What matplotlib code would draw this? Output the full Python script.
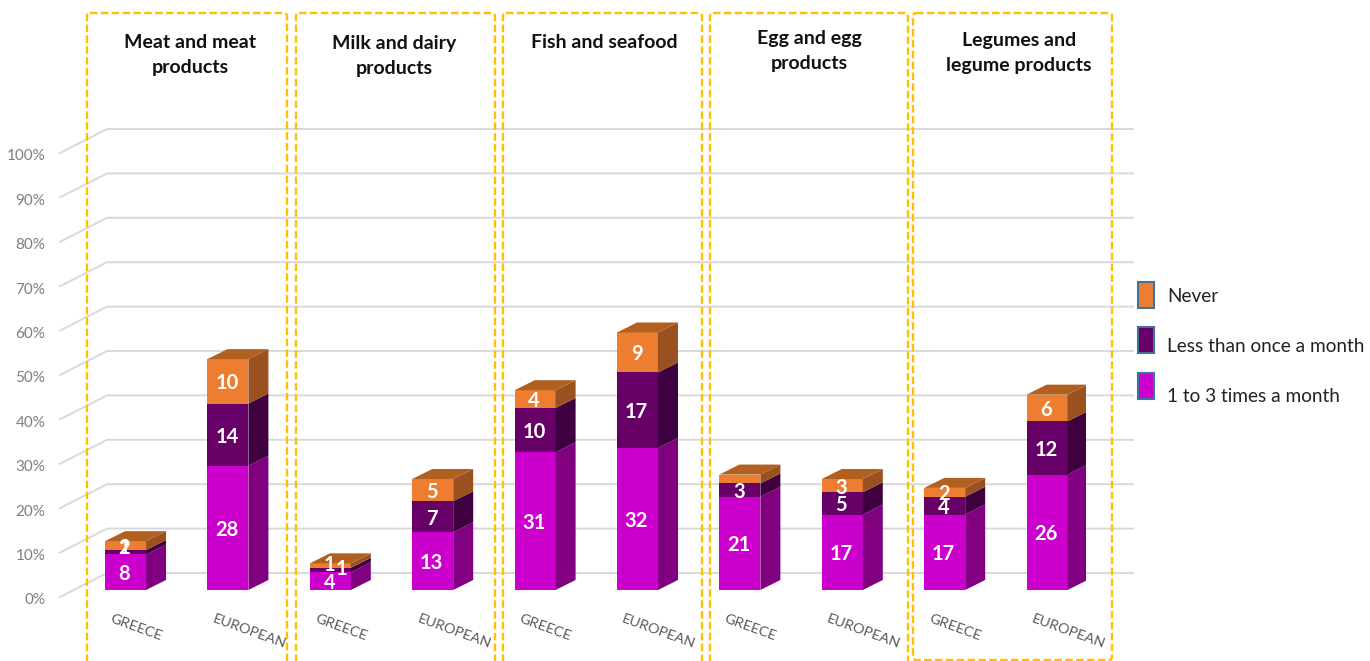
import numpy as np
import matplotlib
matplotlib.use("Agg")
import matplotlib.pyplot as plt
from matplotlib.patches import FancyBboxPatch, Rectangle
from matplotlib.transforms import Affine2D

plt.rcParams['font.family'] = ['Lato', 'DejaVu Sans']

regions = ["GREECE", "EUROPEAN"] * 5
monthly = [8, 28, 4, 13, 31, 32, 21, 17, 17, 26]
rarely = [1, 14, 1, 7, 10, 17, 3, 5, 4, 12]
never = [2, 10, 1, 5, 4, 9, 2, 3, 2, 6]
series_names = ["1 to 3 times a month", "Less than once a month", "Never"]
titles = ["Meat and meat\nproducts", "Milk and dairy\nproducts", "Fish and seafood",
          "Egg and egg\nproducts", "Legumes and\nlegume products"]

front_col = ["#CC00CC", "#660066", "#ED7D31"]
side_col = ["#800080", "#3F003F", "#9A501F"]
top_col = "#B1601F"

W, H = 1370, 661
fig = plt.figure(figsize=(W / 100, H / 100), dpi=100)
ax = fig.add_axes([60 / W, (H - 597) / H, 1026 / W, 444 / H])
x = np.arange(10)
ax.set_xlim(-0.64, 9.38)
ax.set_ylim(0, 100)
for s in ax.spines.values():
    s.set_visible(False)


def shift(dx, dy):
    return ax.transData + Affine2D().translate(dx, dy)


# slanted wall lines
for t in range(0, 101, 10):
    xs = [-0.64, -0.64 + 47 / 102.4, 9.38 + 47 / 102.4]
    ax.plot(xs, [t, t + 24 / 4.44, t + 24 / 4.44], color="#D9D9D9", lw=1.4, zorder=1, clip_on=False)

ax.set_yticks(range(0, 101, 10), [f"{t}%" for t in range(0, 101, 10)])
ax.set_xticks(x, regions, rotation=-20, ha="left", va="top", rotation_mode="anchor")
ax.tick_params(length=0)
ax.tick_params(axis="y", labelsize=11, labelcolor="#7F7F7F", pad=10.5)
ax.tick_params(axis="x", labelsize=10.4, labelcolor="#595959", pad=11)
for lab in ax.get_xticklabels():
    lab.set_transform(lab.get_transform() + Affine2D().translate(-13, 0))
for lab in ax.get_yticklabels():
    lab.set_transform(lab.get_transform() + Affine2D().translate(0, -2))

# bars: front faces sit 7px above the axis zero, the depth is 20px across and 10px up
front = shift(0, 7)
bw = 0.4
ddx = 20 / 102.4
ddy = 10 / 4.44
skip = {(6, 2)}
nudge = {(0, 1): -6, (0, 2): 0, (2, 1): -3, (2, 2): -3}
xnudge = {(2, 1): 12}
stacks = [monthly, rarely, never]
for i in x:
    base = 0
    for k, vals in enumerate(stacks):
        v = vals[i]
        l, r = i - bw / 2, i + bw / 2
        ax.bar(i, v, bw, bottom=base, color=front_col[k], transform=front, zorder=3)
        ax.fill([r, r + ddx, r + ddx, r], [base, base + ddy, base + v + ddy, base + v],
                color=side_col[k], lw=0, transform=front, zorder=3)
        if k == 2:
            top = base + v
            ax.fill([l, r, r + ddx, l + ddx], [top, top, top + ddy, top + ddy],
                    color=top_col, lw=0, transform=front, zorder=3)
        if (i, k) not in skip:
            ax.text(i - 0.01 + xnudge.get((i, k), 0) / 102.4,
                    base + v / 2 - (2 + nudge.get((i, k), 0)) / 4.44, str(v), color="white",
                    fontsize=14.5, fontweight="bold", ha="center", va="center",
                    transform=front, zorder=5)
        base += v

# pixel space for the annotation shapes on top of the chart
px = Affine2D().scale(1, -1).translate(0, H)
boxes = [(87, 287, 680), (296, 495, 680), (503, 702, 680), (710, 908, 680), (913, 1112, 660)]
for l, r, b in boxes:
    fig.add_artist(FancyBboxPatch((l + 2, 15), r - l - 4, b - 17,
                                  boxstyle="round,pad=2,rounding_size=3",
                                  fc="none", ec="#FFC000", lw=1.7, ls=(0, (3.2, 1.4)),
                                  transform=px, zorder=6))

title_x = [190, 394, 604, 809, 1019]
title_y = [55, 56, 43, 51, 53]
for t, tx, ty in zip(titles, title_x, title_y):
    fig.text(tx, ty, t, transform=px, ha="center", va="center", fontsize=14,
             fontweight="bold", color="#111111", linespacing=1.6)

# legend, swatches and labels are not evenly aligned in the source
leg_y = [282, 327, 373]
text_y = [297, 346, 396]
for name, col, sy, ty in zip(series_names[::-1], front_col[::-1], leg_y, text_y):
    fig.add_artist(Rectangle((1138, sy), 16, 26, fc=col, ec="#41719C", lw=1.5,
                             transform=px, zorder=6))
    fig.text(1167, ty, name, transform=px, ha="left", va="center", fontsize=13.7, color="#222222")

fig.savefig("out.png", dpi=100)
